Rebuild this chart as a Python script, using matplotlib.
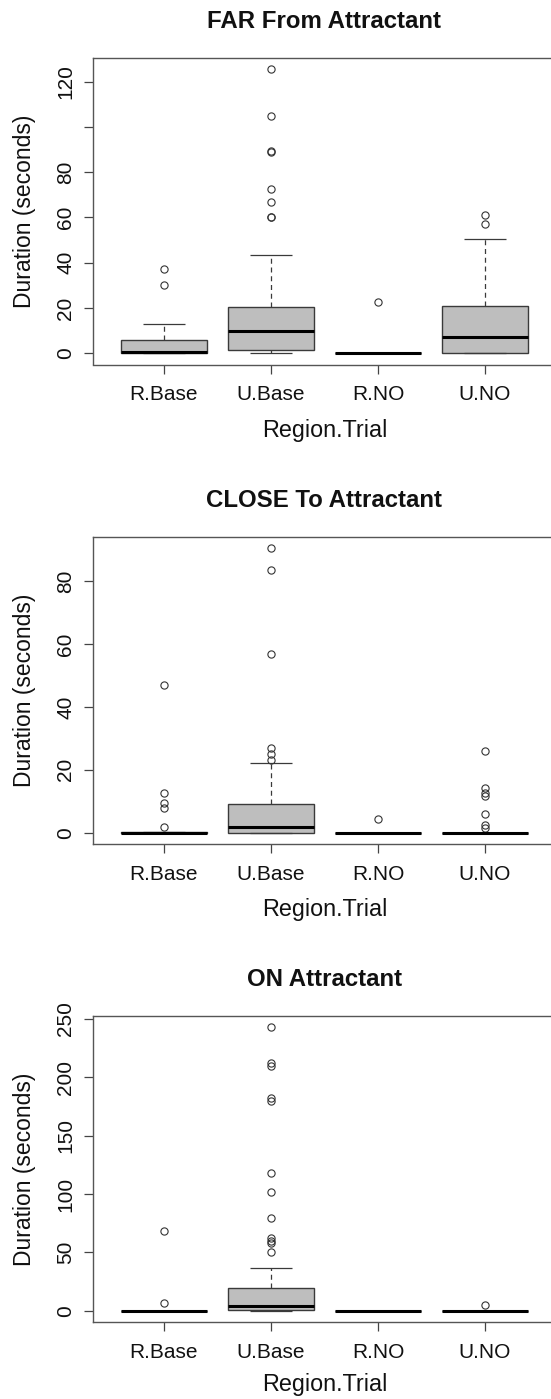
import matplotlib
matplotlib.use("Agg")
import matplotlib.pyplot as plt

plt.rcParams['font.family'] = ['Liberation Sans', 'DejaVu Sans']
plt.rcParams['lines.solid_capstyle'] = 'butt'

groups = ["R.Base", "U.Base", "R.NO", "U.NO"]

# FAR From Attractant
far_q1 = [0, 1.5, 0, 0]
far_med = [0.6, 9.6, 0, 7.1]
far_q3 = [5.8, 20.6, 0, 20.8]
far_wlo = [0, 0, 0, 0]
far_whi = [12.9, 43.4, 0, 50.5]
far_out = [[37.2, 30.2],
           [125.5, 104.7, 89.3, 89.0, 72.7, 67.0, 60.3, 60.0],
           [22.4],
           [61.1, 57.0]]

# CLOSE To Attractant
close_q1 = [0, 0, 0, 0]
close_med = [0, 1.8, 0, 0]
close_q3 = [0.2, 9.0, 0, 0]
close_wlo = [0, 0, 0, 0]
close_whi = [0.2, 22.3, 0, 0]
close_out = [[46.9, 12.6, 9.4, 7.9, 1.7],
             [90.4, 83.5, 56.9, 27.0, 24.9, 23.2],
             [4.2],
             [26.0, 14.3, 12.5, 11.6, 5.8, 2.3, 1.4]]

# ON Attractant
on_q1 = [0, 0.3, 0, 0]
on_med = [0, 4.0, 0, 0]
on_q3 = [0, 19.1, 0, 0]
on_wlo = [0, 0, 0, 0]
on_whi = [0, 36.2, 0, 0]
on_out = [[68.1, 6.3],
          [242.9, 212.1, 209.5, 182.2, 179.6, 117.7, 102.1, 79.5, 62.7, 59.6, 57.6, 50.2],
          [],
          [4.6]]

far_ticks = [0, 20, 40, 60, 80, 100, 120]
far_labels = ["0", "20", "40", "60", "80", "", "120"]
close_ticks = [0, 20, 40, 60, 80]
on_ticks = [0, 50, 100, 150, 200, 250]

W, H = 551, 1399
fig = plt.figure(figsize=(W / 100, H / 100), dpi=100)

edge = '#3a3a3a'
txt = '#111111'
LEFT, RIGHT = 93.3, 555.6   # plot frame in pixels (right side falls off the canvas)


def panel(top, bottom, title, q1, med, q3, wlo, whi, out, ticks, labels, xlab_off=72):
    ax = fig.add_axes([LEFT / W, 1 - bottom / H, (RIGHT - LEFT) / W, (bottom - top) / H])
    stats = []
    for i in range(len(groups)):
        stats.append(dict(med=med[i], q1=q1[i], q3=q3[i], whislo=wlo[i],
                          whishi=whi[i], fliers=out[i], label=groups[i]))
    ax.bxp(stats, positions=[1, 2, 3, 4], widths=0.8, capwidths=0.4,
           patch_artist=True,
           boxprops=dict(facecolor='#bebebe', edgecolor=edge, linewidth=1),
           medianprops=dict(color='black', linewidth=2.2),
           whiskerprops=dict(color=edge, linewidth=0.9, linestyle=(0, (4, 3))),
           capprops=dict(color=edge, linewidth=0.9),
           flierprops=dict(marker='o', markerfacecolor='none', markeredgecolor='#333333',
                           markersize=5.2, markeredgewidth=0.8))
    allv = []
    for i in range(len(groups)):
        allv += [wlo[i], whi[i]] + out[i]
    lo, hi = min(allv), max(allv)
    pad = 0.04 * (hi - lo)
    ax.set_ylim(lo - pad, hi + pad)
    ax.set_xlim(0.34, 4.66)
    ax.set_yticks(ticks)
    ax.set_yticklabels(labels if labels else [str(t) for t in ticks],
                       rotation=90, va='center')
    ax.set_xticks([1, 2, 3, 4])
    ax.set_xticklabels(groups)
    ax.tick_params(axis='both', length=6.5, width=0.9, color='#444444',
                   labelsize=15, labelcolor=txt)
    ax.tick_params(axis='x', pad=8.5)
    ax.tick_params(axis='y', pad=6.6)
    for s in ['left', 'top', 'bottom']:
        ax.spines[s].set_color('#555555')
        ax.spines[s].set_linewidth(1)
    ax.spines['right'].set_visible(False)
    hpx = bottom - top
    ax.set_xlabel("Region.Trial", fontsize=16.8, color=txt, va='baseline')
    ax.set_ylabel("Duration (seconds)", fontsize=16.5, color=txt, va='center')
    ax.xaxis.set_label_coords(0.5, -xlab_off / hpx)
    ax.yaxis.set_label_coords(-(LEFT - 24) / (RIGHT - LEFT), 0.5)
    ax.set_title(title, fontsize=17.3, fontweight='bold', color=txt, pad=21.6)
    return ax


panel(58, 364.5, "FAR From Attractant", far_q1, far_med, far_q3, far_wlo, far_whi,
      far_out, far_ticks, far_labels)
panel(537, 844, "CLOSE To Attractant", close_q1, close_med, close_q3, close_wlo,
      close_whi, close_out, close_ticks, None)
panel(1016, 1322, "ON Attractant", on_q1, on_med, on_q3, on_wlo, on_whi,
      on_out, on_ticks, None, xlab_off=69)

fig.savefig("out.png", dpi=100)
